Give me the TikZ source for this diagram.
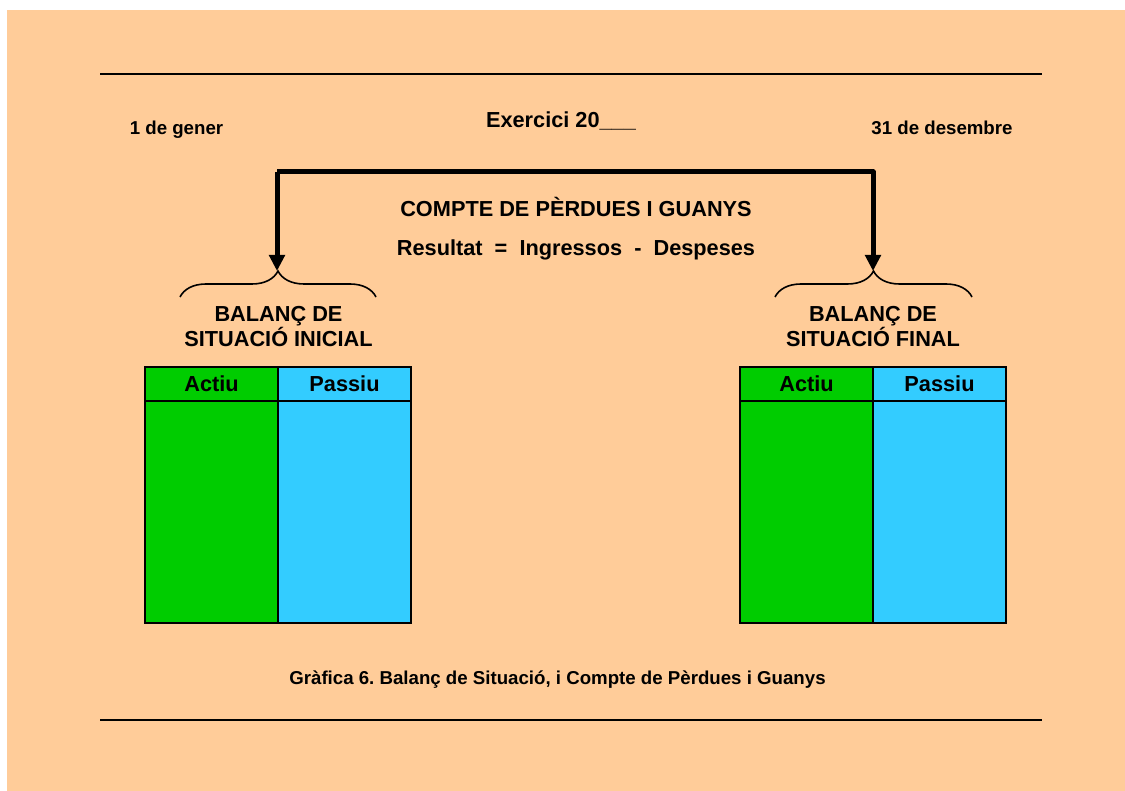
\documentclass[tikz,border=0pt]{standalone}
\usepackage{fontspec}
\setmainfont{Liberation Sans}
\usetikzlibrary{arrows.meta,decorations.pathreplacing}
\definecolor{peach}{HTML}{FFCC99}
\definecolor{actiugreen}{HTML}{00CC00}
\definecolor{passiublue}{HTML}{33CCFF}
\frenchspacing
\begin{document}
\begin{tikzpicture}[x=.75pt,y=-.75pt,
	big/.style={font=\fontsize{16.3}{19}\selectfont\bfseries,inner sep=0pt,anchor=base},
	small/.style={font=\fontsize{14}{17}\selectfont\bfseries,inner sep=0pt,anchor=base},
	flow/.style={line width=3.75pt,line join=round,-{Triangle[width=11.5pt,length=12pt]}},
	curly/.style={decorate,decoration={brace,amplitude=19.5pt},line width=1.2pt},
	cell/.style={draw=black,line width=1.1pt}]
						\useasboundingbox (0,0) rectangle (1125,791);
						\fill[white] (0,0) rectangle (1125,791);
						\fill[peach] (7,10) rectangle (1125,791);
						%\draw[gray] (0,0) grid[step=50] (1125,791);
						\draw[line width=2.2pt] (100,74) -- (1042,74);
						\draw[line width=2.2pt] (100,720) -- (1042,720);
						\node[small] (gener) at (176.5,135) {1 de gener};
						\node[big] (exercici) at (561,128) {Exercici 20\_\_\_};
						\node[small] (desembre) at (942,135) {31 de desembre};
						\node[big] (compte) at (576,217) {COMPTE DE PÈRDUES I GUANYS};
						\node[big] (resultat) at (576,256) {Resultat~~=~~Ingressos~~-~~Despeses};
						% connector to both balances
						\coordinate (topL) at (277,172);
						\coordinate (topR) at (873,172);
						\coordinate (tipL) at (277,271);
						\coordinate (tipR) at (873,271);
						\draw[flow] (topL) -- (tipL);
						\draw[flow] (topL) -- (topR) -- (tipR);
						\draw[curly] (180,297) -- (376,297);
						\draw[curly] (775,297) -- (972,297);
						\node[big] (balancL) at (278.5,322) {BALANÇ DE};
						\node[big] (inicial) at (278.5,347) {SITUACIÓ INICIAL};
						\node[big] (balancR) at (873,322) {BALANÇ DE};
						\node[big] (final) at (873,347) {SITUACIÓ FINAL};
						% left balance
						\draw[cell,fill=actiugreen] (145,367) rectangle (278,623);
						\draw[cell,fill=passiublue] (278,367) rectangle (411,623);
						\draw[cell] (145,401) -- (411,401);
						\node[big] (actiuL) at (211.5,392) {Actiu};
						\node[big] (passiuL) at (344.5,392) {Passiu};
						% right balance
						\draw[cell,fill=actiugreen] (740,367) rectangle (873,623);
						\draw[cell,fill=passiublue] (873,367) rectangle (1006,623);
						\draw[cell] (740,401) -- (1006,401);
						\node[big] (actiuR) at (806.5,392) {Actiu};
						\node[big] (passiuR) at (939.5,392) {Passiu};
						\node[small] (grafica) at (557.5,684) {Gràfica 6. Balanç de Situació, i Compte de Pèrdues i Guanys};
\end{tikzpicture}
\end{document}
